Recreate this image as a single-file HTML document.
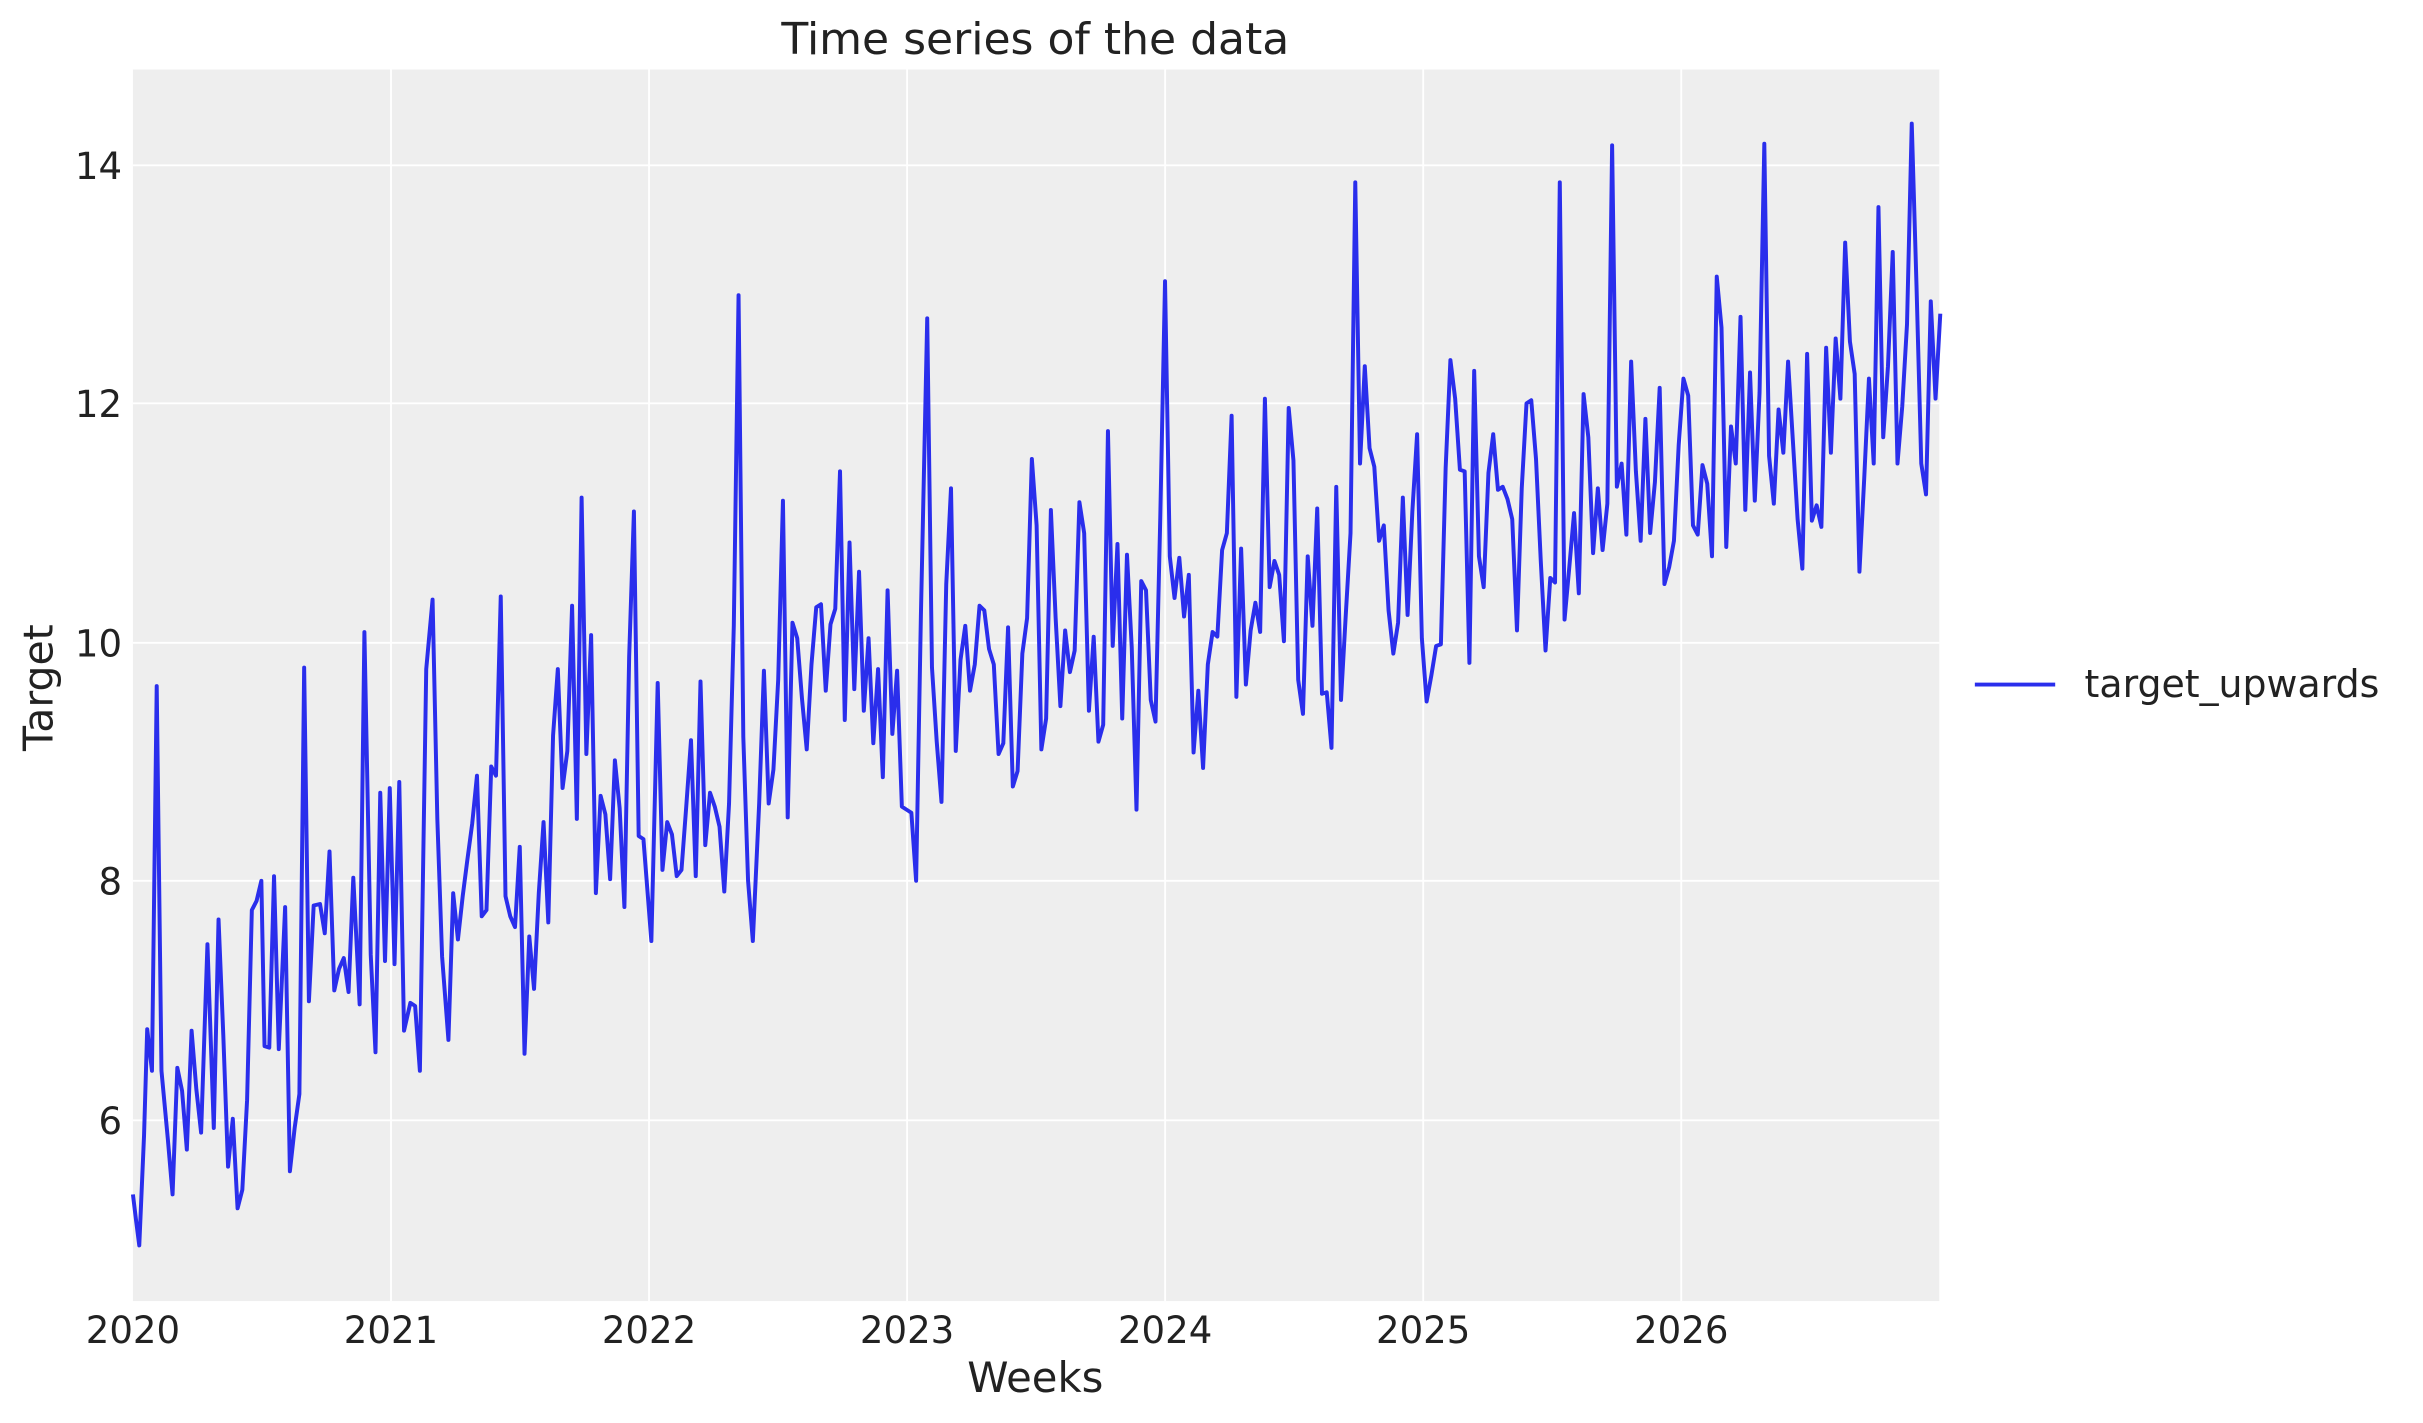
<!DOCTYPE html>
<html><head><meta charset="utf-8"><style>
html,body{margin:0;padding:0;background:#fff;}
svg{display:block;}
text{font-family:"DejaVu Sans","Liberation Sans",sans-serif;fill:#222;}
</style></head><body>
<svg width="2423" height="1423" viewBox="0 0 1568 920.9" xmlns="http://www.w3.org/2000/svg">
<rect x="86" y="45" width="1169" height="797" fill="#eeeeee"/>
<g stroke="#fff" stroke-width="1.2">
<line x1="253" y1="45" x2="253" y2="842"/><line x1="420" y1="45" x2="420" y2="842"/>
<line x1="587" y1="45" x2="587" y2="842"/><line x1="754" y1="45" x2="754" y2="842"/>
<line x1="921" y1="45" x2="921" y2="842"/><line x1="1088" y1="45" x2="1088" y2="842"/>
<line x1="86" y1="107" x2="1255" y2="107"/><line x1="86" y1="261" x2="1255" y2="261"/>
<line x1="86" y1="416" x2="1255" y2="416"/><line x1="86" y1="570" x2="1255" y2="570"/>
<line x1="86" y1="725" x2="1255" y2="725"/>
</g>
<g transform="translate(86,0) scale(1.026,1) translate(-86,0)">
<polyline fill="none" stroke="#2a2eec" stroke-width="2.5" stroke-linejoin="round" points="86,773 88,790 90,806 93,735 95,666 98,693 101,444 104,693 108,737 111,773 114,691 117,706 120,744 123,667 126,705 129,733 133,611 137,730 140,595 143,670 146,755 149,724 152,782 155,770 158,712 161,589 164,583 167,570 169,677 172,678 175,567 178,679 182,587 185,758 188,730 191,708 194,432 197,648 200,586 204,585 207,604 210,551 213,641 216,627 219,620 222,642 225,568 229,650 232,409 236,618 239,681 242,513 245,622 248,510 251,624 254,506 257,667 261,649 264,651 267,693 271,433 275,388 278,530 281,619 285,673 288,578 291,608 294,580 297,556 300,533 303,502 306,593 309,589 312,496 315,502 318,386 321,580 324,593 327,600 330,548 333,682 336,606 339,640 342,578 345,532 348,597 351,476 354,433 357,510 360,486 363,392 366,530 369,322 372,488 375,411 378,578 381,515 384,527 387,569 390,492 393,523 396,587 399,425 402,331 405,541 408,543 413,609 417,442 420,563 423,532 426,540 429,567 432,563 435,522 438,479 441,567 444,441 447,547 450,513 453,522 456,535 459,577 462,520 465,405 468,191 471,477 474,570 477,609 481,520 484,434 487,520 490,498 493,440 496,324 499,529 502,403 505,413 508,452 511,485 514,430 517,393 520,391 523,447 526,404 529,394 532,305 535,466 538,351 541,446 544,370 547,460 550,413 553,481 556,433 559,503 562,382 565,475 568,434 571,522 574,524 577,526 580,570 583,399 587,206 590,432 593,480 596,519 599,378 602,316 605,486 608,427 611,405 614,447 617,430 620,392 623,395 626,420 629,430 632,488 635,481 638,406 641,509 644,499 647,423 650,400 653,297 656,340 659,485 662,465 665,330 668,400 671,457 674,408 677,435 680,421 683,325 686,345 689,460 692,412 695,480 698,469 701,279 704,418 707,352 710,465 713,359 716,419 719,524 722,376 725,382 728,453 731,467 734,335 737,182 740,360 743,387 746,361 749,399 752,372 755,487 758,447 761,497 764,430 767,409 770,412 773,356 776,345 779,269 782,451 785,355 788,443 791,408 794,390 797,409 800,258 803,380 806,363 809,372 812,415 815,264 818,298 821,440 824,462 827,360 830,405 833,329 836,449 839,448 842,484 845,315 848,453 851,398 854,345 857,118 860,300 863,237 866,290 869,302 872,350 875,340 878,395 881,423 884,403 887,322 890,398 893,331 896,281 899,413 902,454 905,437 908,418 911,417 914,303 917,233 920,258 923,304 926,305 929,429 932,240 935,360 938,380 941,306 944,281 947,317 950,315 953,323 956,336 959,408 962,316 965,261 968,259 971,297 974,363 977,421 980,374 983,377 986,118 989,401 992,367 995,332 998,384 1001,255 1004,283 1007,358 1010,316 1013,356 1016,326 1019,94 1022,315 1025,300 1028,346 1031,234 1034,305 1037,350 1040,271 1043,345 1046,312 1049,251 1052,378 1055,367 1058,350 1061,288 1064,245 1067,256 1070,340 1073,346 1076,301 1079,313 1082,360 1085,179 1088,212 1091,354 1094,276 1097,300 1100,205 1103,330 1106,241 1109,324 1112,254 1115,93 1118,295 1121,326 1124,265 1127,293 1130,234 1133,285 1136,336 1139,368 1142,229 1145,337 1148,327 1151,341 1154,225 1157,293 1160,219 1163,258 1166,157 1169,221 1172,242 1175,370 1178,310 1181,245 1184,300 1187,134 1190,283 1193,237 1196,163 1199,300 1202,263 1205,210 1208,80 1211,185 1214,300 1217,320 1220,195 1223,258 1226,203"/>
</g>
<g font-size="24" text-anchor="end">
<text x="79" y="116">14</text><text x="79" y="270">12</text><text x="79" y="425">10</text>
<text x="79" y="579">8</text><text x="79" y="734">6</text>
</g>
<g font-size="24" text-anchor="middle">
<text x="86" y="869">2020</text><text x="253" y="869">2021</text><text x="420" y="869">2022</text>
<text x="587" y="869">2023</text><text x="754" y="869">2024</text><text x="921" y="869">2025</text>
<text x="1088" y="869">2026</text>
</g>
<text x="670" y="901" font-size="27" text-anchor="middle">Weeks</text>
<text x="670" y="35" font-size="28.5" text-anchor="middle">Time series of the data</text>
<text transform="translate(34,445) rotate(-90)" font-size="26.5" text-anchor="middle">Target</text>
<line x1="1278" y1="443" x2="1330" y2="443" stroke="#2a2eec" stroke-width="2.5"/>
<text x="1349" y="451" font-size="24.5">target_upwards</text>
</svg>
</body></html>
